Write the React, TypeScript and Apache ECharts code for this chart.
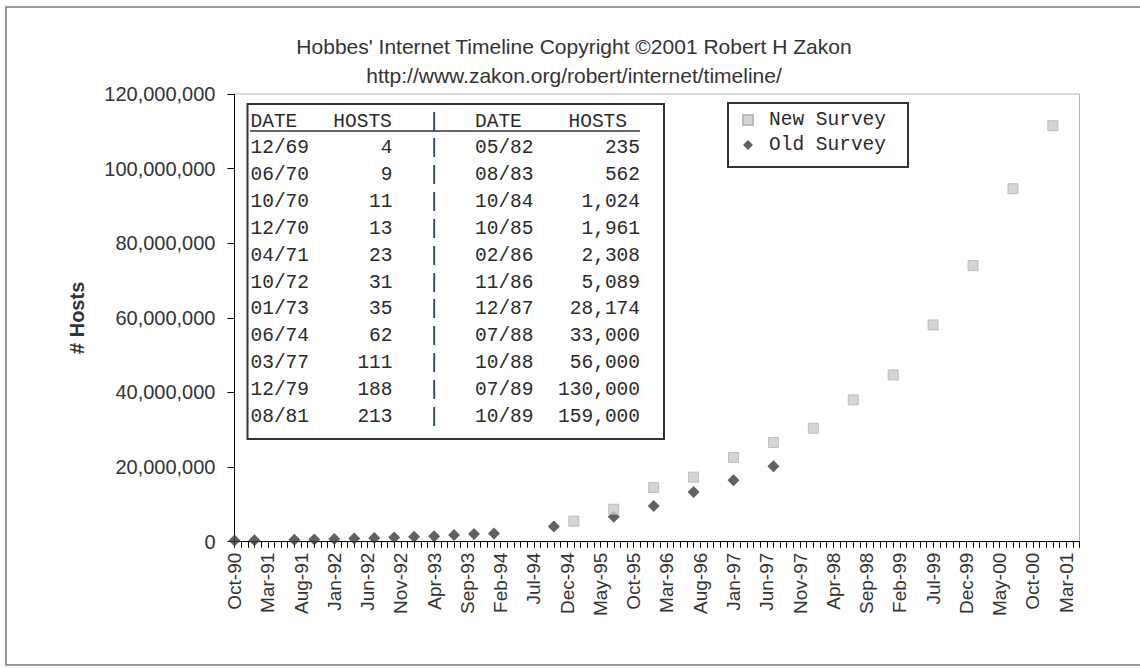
import React, { useEffect, useRef } from "react";
import * as echarts from "echarts";

// ---------- Axis categories (monthly, Oct-90 .. May-01) ----------
const MONTH_NAMES = ["Jan", "Feb", "Mar", "Apr", "May", "Jun", "Jul", "Aug", "Sep", "Oct", "Nov", "Dec"];
const AXIS_START_YEAR = 1990;
const AXIS_START_MONTH = 9; // October (0-based)
const AXIS_MONTH_COUNT = 128;

function buildMonthCategories(): string[] {
  const out: string[] = [];
  for (let i = 0; i < AXIS_MONTH_COUNT; i++) {
    const m = AXIS_START_MONTH + i;
    const y = AXIS_START_YEAR + Math.floor(m / 12);
    out.push(MONTH_NAMES[m % 12] + "-" + String(y % 100).padStart(2, "0"));
  }
  return out;
}
const monthCategories = buildMonthCategories();

// ---------- Series data ----------
const oldSurveyDates = [
  "Oct-90", "Jan-91", "Jul-91", "Oct-91", "Jan-92", "Apr-92", "Jul-92", "Oct-92", "Jan-93", "Apr-93",
  "Jul-93", "Oct-93", "Jan-94", "Oct-94", "Jul-95", "Jan-96", "Jul-96", "Jan-97", "Jul-97",
];
const oldSurveyHosts = [
  313000, 376000, 535000, 617000, 727000, 890000, 992000, 1136000, 1313000, 1486000,
  1776000, 2056000, 2217000, 4100000, 6700000, 9600000, 13300000, 16500000, 20200000,
];

const newSurveyDates = [
  "Jan-95", "Jul-95", "Jan-96", "Jul-96", "Jan-97", "Jul-97", "Jan-98", "Jul-98", "Jan-99", "Jul-99",
  "Jan-00", "Jul-00", "Jan-01",
];
const newSurveyHosts = [
  5500000, 8700000, 14500000, 17300000, 22600000, 26600000, 30400000, 38000000, 44700000, 58100000,
  74000000, 94600000, 111500000,
];

// ---------- Y axis ----------
const Y_MIN = 0;
const Y_MAX = 120000000;
const Y_STEP = 20000000;

// ---------- Inset table ----------
const tableHeader = ["DATE", "HOSTS", "|", "DATE", "HOSTS"];
const tableDatesLeft = ["12/69", "06/70", "10/70", "12/70", "04/71", "10/72", "01/73", "06/74", "03/77", "12/79", "08/81"];
const tableHostsLeft = [4, 9, 11, 13, 23, 31, 35, 62, 111, 188, 213];
const tableDatesRight = ["05/82", "08/83", "10/84", "10/85", "02/86", "11/86", "12/87", "07/88", "10/88", "07/89", "10/89"];
const tableHostsRight = [235, 562, 1024, 1961, 2308, 5089, 28174, 33000, 56000, 130000, 159000];

const TITLE_LINE_1 = "Hobbes' Internet Timeline Copyright \u00A92001 Robert H Zakon";
const TITLE_LINE_2 = "http://www.zakon.org/robert/internet/timeline/";

const fmt = (v: number) => v.toLocaleString("en-US");

function buildTable(): any[] {
  const mono = "'Liberation Mono', 'DejaVu Sans Mono', monospace";
  const fontSize = 19.5;
  const color = "#2a2a2a";
  const boxX = 247.5, boxY = 104, boxW = 416.5, boxH = 335;
  const colDate1 = 250.5, colHost1R = 392.5, colBar = 434, colDate2 = 475, colHost2R = 640;
  const headerY = 121.5, rowY0 = 148.3, rowStep = 26.84;
  const els: any[] = [];
  els.push({
    type: "rect",
    shape: { x: boxX, y: boxY, width: boxW, height: boxH },
    style: { fill: "#fff", stroke: "#333", lineWidth: 2 },
    silent: true,
  });
  const txt = (s: string, x: number, y: number, align: string) => ({
    type: "text",
    x, y,
    style: { text: s, fill: color, font: `${fontSize}px ${mono}`, align, verticalAlign: "middle" },
    silent: true,
  });
  els.push(txt(tableHeader[0], colDate1, headerY, "left"));
  els.push(txt(tableHeader[1], 333.3, headerY, "left"));
  els.push(txt(tableHeader[2], colBar, headerY, "center"));
  els.push(txt(tableHeader[3], colDate2, headerY, "left"));
  els.push(txt(tableHeader[4], 568.5, headerY, "left"));
  els.push({
    type: "line",
    shape: { x1: 250, y1: 131, x2: 640, y2: 131 },
    style: { stroke: "#333", lineWidth: 1.5 },
    silent: true,
  });
  for (let i = 0; i < tableDatesLeft.length; i++) {
    const y = rowY0 + i * rowStep;
    els.push(txt(tableDatesLeft[i], colDate1, y, "left"));
    els.push(txt(fmt(tableHostsLeft[i]), colHost1R, y, "right"));
    els.push(txt("|", colBar, y, "center"));
    els.push(txt(tableDatesRight[i], colDate2, y, "left"));
    els.push(txt(fmt(tableHostsRight[i]), colHost2R, y, "right"));
  }
  return els;
}

export default function App() {
  const ref = useRef<HTMLDivElement>(null);

  useEffect(() => {
    document.body.style.margin = "0";
    if (!ref.current) return;
    const chart = echarts.init(ref.current, undefined, { renderer: "svg" });
    const sans = "'Liberation Sans', Arial, sans-serif";
    const mono = "'Liberation Mono', 'DejaVu Sans Mono', monospace";

    const option: any = {
      animation: false,
      backgroundColor: "#ffffff",
      title: {
        text: TITLE_LINE_1 + "\n" + TITLE_LINE_2,
        left: 574,
        top: 31.5,
        padding: 0,
        textAlign: "center",
        textStyle: { fontFamily: sans, fontSize: 21, fontWeight: "normal", color: "#333", lineHeight: 29 },
      },
      legend: {
        data: [
          { name: "New Survey", icon: "rect" },
          { name: "Old Survey", icon: "diamond" },
        ],
        orient: "vertical",
        left: 728,
        top: 103,
        padding: [7, 22, 12, 14],
        itemGap: 5,
        itemWidth: 10,
        itemHeight: 10,
        borderColor: "#333",
        borderWidth: 2,
        backgroundColor: "#fff",
        textStyle: { fontFamily: mono, fontSize: 19.5, color: "#2a2a2a", padding: [0, 0, 0, 11], lineHeight: 20 },
      },
      grid: {
        left: 234.5,
        top: 94,
        right: 60.5,
        bottom: 126.3,
        show: true,
        borderColor: "#b4b4b4",
        borderWidth: 1,
        containLabel: false,
        outerBoundsMode: "none",
      },
      xAxis: {
        type: "category",
        data: monthCategories,
        boundaryGap: false,
        axisLine: { show: true, lineStyle: { color: "#000", width: 1 } },
        axisTick: { show: true, interval: 0, length: 6, lineStyle: { color: "#000" } },
        axisLabel: {
          interval: 4,
          rotate: 90,
          margin: 11,
          fontFamily: sans,
          fontSize: 19,
          color: "#333",
        },
        splitLine: { show: false },
      },
      yAxis: {
        type: "value",
        min: Y_MIN,
        max: Y_MAX,
        interval: Y_STEP,
        name: "# Hosts",
        nameLocation: "middle",
        nameGap: 148,
        nameTextStyle: { fontFamily: sans, fontSize: 20, fontWeight: "bold", color: "#333" },
        axisLine: { show: true, lineStyle: { color: "#000", width: 1 } },
        axisTick: { show: true, length: 7, lineStyle: { color: "#000" } },
        axisLabel: { margin: 19, fontFamily: sans, fontSize: 20, color: "#333", formatter: (v: number) => fmt(v) },
        splitLine: { show: false },
      },
      series: [
        {
          name: "Old Survey",
          type: "scatter",
          symbol: "diamond",
          symbolSize: 12,
          itemStyle: { color: "#3a3a3a" },
          data: oldSurveyDates.map((d, i) => [d, oldSurveyHosts[i]]),
          z: 2,
        },
        {
          name: "New Survey",
          type: "scatter",
          symbol: "rect",
          symbolSize: 10,
          itemStyle: { color: "#cbcbcb", borderColor: "#b2b2b2", borderWidth: 1 },
          data: newSurveyDates.map((d, i) => [d, newSurveyHosts[i]]),
          z: 3,
        },
      ],
      graphic: [
        {
          type: "rect",
          shape: { x: 6, y: 7, width: 1150, height: 658 },
          style: { fill: "none", stroke: "#7a7a7a", lineWidth: 1.5 },
          silent: true,
          z: 0,
        },
        {
          type: "group",
          children: buildTable(),
          z: 10,
        },
      ],
    };
    chart.setOption(option);
    return () => chart.dispose();
  }, []);

  return (
    <div
      ref={ref}
      style={{ position: "fixed", left: 0, top: 0, width: 1140, height: 668, background: "#fff" }}
    />
  );
}
